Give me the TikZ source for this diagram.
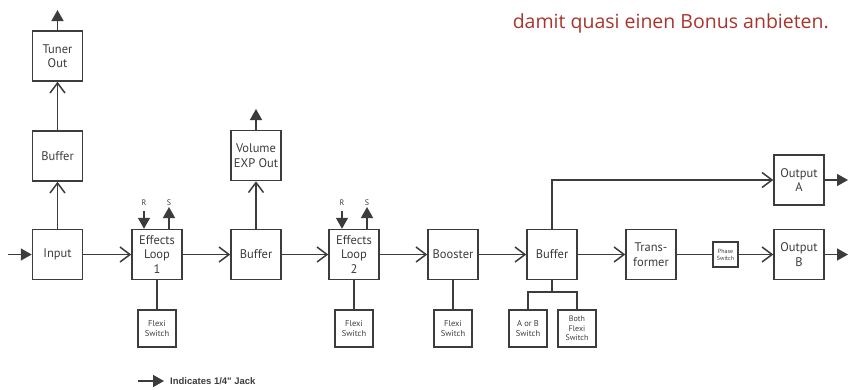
\documentclass[tikz,border=0pt]{standalone}
\usepackage{fontspec}
\setmainfont{PT Sans}
\newfontfamily\legendfont{Liberation Sans}
\newfontfamily\redfont{Open Sans}
\usetikzlibrary{arrows.meta}
\definecolor{ink}{HTML}{3C3C3C}
\definecolor{redtxt}{HTML}{A8352C}
\begin{document}
\begin{tikzpicture}[x=1pt,y=-1pt,
  box/.style={draw=ink,line width=1.5pt,minimum width=50pt,minimum height=50pt,inner sep=1pt,align=center,font=\fontsize{12.5}{14.5}\selectfont,text=ink},
  small/.style={draw=ink,line width=1.5pt,minimum width=38pt,minimum height=37pt,inner sep=1pt,align=center,font=\fontsize{8.5}{10}\selectfont,text=ink},
  tiny/.style={draw=ink,line width=1.2pt,minimum width=25pt,minimum height=25pt,inner sep=0.5pt,align=center,font=\fontsize{6}{7}\selectfont,text=ink},
  wire/.style={draw=ink,line width=1.5pt},
  barbarr/.style={wire,-{Straight Barb[length=10pt,width=15pt,line width=1.5pt]}},
  jack/.style={wire,-{Triangle[length=11pt,width=12pt]}},
  lbl/.style={font=\fontsize{8}{9}\selectfont,text=ink,inner sep=0pt}]
\useasboundingbox (0,0) rectangle (848,389);
\node[anchor=base east,text=redtxt,font=\redfont\fontsize{19.5}{22}\selectfont,inner sep=0pt] (red) at (829,28) {damit quasi einen Bonus anbieten.};
% main row
\node[box] (input) at (57.5,254.5) {Input};
\node[box] (el1) at (157,254.5) {Effects\\Loop\\1};
\node[box] (buf2) at (256,254.5) {Buffer};
\node[box] (el2) at (354,254.5) {Effects\\Loop\\2};
\node[box] (boost) at (453,254.5) {Booster};
\node[box] (buf3) at (552,254.5) {Buffer};
\node[box] (trans) at (651,254.5) {Trans-\\former};
\node[tiny] (phase) at (725.5,254.5) {Phase\\Switch};
\node[box] (outb) at (799,254.5) {Output\\B};
\node[box] (outa) at (799,180) {Output\\A};
% upper column
\node[box] (buf1) at (57.5,156) {Buffer};
\node[box] (tuner) at (57.5,56) {Tuner\\Out};
\node[box] (vol) at (256,155.5) {Volume\\EXP Out};
% switches
\node[small] (fx1) at (157,328.5) {Flexi\\Switch};
\node[small] (fx2) at (354,328.5) {Flexi\\Switch};
\node[small] (fx3) at (453,328.5) {Flexi\\Switch};
\node[small] (aorb) at (528,328.5) {A or B\\Switch};
\node[small,font=\fontsize{8}{9.5}\selectfont] (both) at (577,328.5) {Both\\Flexi\\Switch};
% coordinates
\coordinate (inj) at (8,254.5);
\coordinate (tunertip) at (57.5,10);
\coordinate (voltip) at (256,109);
\coordinate (outatip) at (848,180);
\coordinate (outbtip) at (848,254.5);
\coordinate (r1) at (144,211);
\coordinate (s1) at (169,207);
\coordinate (r2) at (342,211);
\coordinate (s2) at (367,207);
\coordinate (split) at (552,292);
\coordinate (legs) at (138,381);
\coordinate (lege) at (164,381);
% connectors
\draw[jack] (inj) -- (input.west);
\draw[barbarr] (input) -- (el1);
\draw[barbarr] (el1) -- (buf2);
\draw[barbarr] (buf2) -- (el2);
\draw[barbarr] (el2) -- (boost);
\draw[barbarr] (boost) -- (buf3);
\draw[barbarr] (buf3) -- (trans);
\draw[wire] (trans) -- (phase);
\draw[barbarr] (phase) -- (outb);
\draw[barbarr] (buf3.north) |- (outa.west);
\draw[jack] (outa.east) -- (outatip);
\draw[jack] (outb.east) -- (outbtip);
\draw[barbarr] (input) -- (buf1);
\draw[barbarr] (buf1) -- (tuner);
\draw[jack] (tuner.north) -- (tunertip);
\draw[barbarr] (buf2) -- (vol);
\draw[jack] (vol.north) -- (voltip);
% R / S
\draw[jack] (r1) -- (r1 |- el1.north);
\draw[jack] (s1 |- el1.north) -- (s1);
\draw[jack] (r2) -- (r2 |- el2.north);
\draw[jack] (s2 |- el2.north) -- (s2);
\node[lbl] (rl1) at (144,203) {R};
\node[lbl] (sl1) at (169,203) {S};
\node[lbl] (rl2) at (342,203) {R};
\node[lbl] (sl2) at (367,203) {S};
% switches
\draw[wire] (el1) -- (fx1);
\draw[wire] (el2) -- (fx2);
\draw[wire] (boost) -- (fx3);
\draw[wire] (buf3.south) -- (split);
\draw[wire] (aorb.north) |- (split) -| (both.north);
% legend
\draw[jack] (legs) -- (lege);
\node[anchor=west,inner sep=0pt,font=\legendfont\bfseries\fontsize{9.5}{11}\selectfont,text=ink] (leg) at (170,381) {Indicates 1/4" Jack};
\end{tikzpicture}
\end{document}
